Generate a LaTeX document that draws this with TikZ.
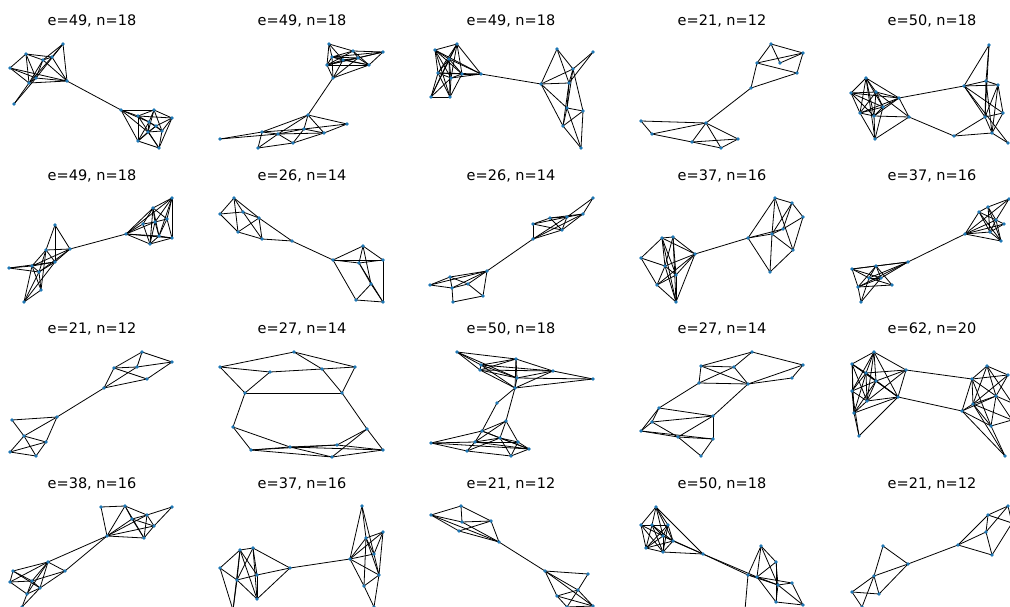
\documentclass[tikz,border=0pt]{standalone}
\usepackage{fontspec}
\setmainfont{DejaVu Sans}
\usetikzlibrary{backgrounds}
\definecolor{vtxblue}{HTML}{1F77B4}
% one graph: prefix, vertex positions (pixels), edges (index pairs)
\newcommand{\graphpanel}[3]{%
  \foreach \px/\py [count=\k] in {#2} {\node[vtx] (#1-\k) at (\px,\py) {};}
  \begin{pgfonlayer}{background}
    \foreach \a/\b in {#3} {\draw[edge] (#1-\a.center) -- (#1-\b.center);}
  \end{pgfonlayer}
}

\begin{document}
\begin{tikzpicture}[x=1pt, y=-1pt,
  vtx/.style={circle, fill=vtxblue, inner sep=0pt, minimum size=3.6pt},
  edge/.style={black, line width=0.8pt},
  ttl/.style={font=\fontsize{14.5}{17}\selectfont, inner sep=0pt}]
	\clip (0,0) rectangle (1010,607);
	\foreach \tx/\ty/\ecount/\ncount [count=\k] in {92/21/49/18, 302/21/49/18, 511/21/49/18, 722/21/21/12, 932/21/50/18,
	  92/176/49/18, 302/176/26/14, 511/176/26/14, 722/176/37/16, 932/176/37/16,
	  92/329/21/12, 302/329/27/14, 511/329/50/18, 722/329/27/14, 932/329/62/20,
	  92/484/38/16, 302/484/37/16, 511/484/21/12, 722/484/50/18, 932/484/21/12}
	  {\node[ttl] (title-\k) at (\tx,\ty) {e=\ecount, n=\ncount};}
	% row 1
	\graphpanel{ga}{63/44,26/54,52/57,43/60,10/68,36/78,29/83,67/81,14/104,121/110,154/110,138/116,172/118,149/122,156/126,162/131,148/132,138/141,159/148}
	  {1/3,1/4,1/8,1/6,2/5,2/3,2/4,2/7,2/6,5/7,5/6,5/8,3/7,3/8,3/4,4/8,4/6,6/8,7/8,9/7,9/6,6/7,4/7,8/10,10/11,10/12,10/17,10/18,10/14,11/12,11/13,11/14,11/16,11/17,12/13,12/14,12/18,12/19,13/16,13/19,13/15,14/15,14/16,14/17,14/18,15/16,15/17,15/18,16/17,16/19,17/18,17/19,18/19}
	\graphpanel{gb}{329/44,353/51,383/52,332/57,343/60,358/58,369/65,327/65,333/78,308/115,347/124,304/129,262/132,278/134,324/133,220/139,293/143,258/148}
	  {1/2,1/4,1/5,2/3,2/4,2/6,2/7,3/6,3/7,3/4,3/8,4/5,4/6,4/7,4/8,5/6,5/8,5/7,6/7,6/8,7/8,8/9,4/9,7/9,5/9,6/9,1/8,2/8,9/10,10/11,10/12,10/13,10/14,10/15,11/15,11/12,12/13,12/14,12/15,12/17,13/14,13/16,13/18,14/15,14/17,14/18,15/17,17/18,16/14}
	\graphpanel{gc}{457/44,435/50,449/59,438/73,451/78,462/74,481/74,431/97,450/97,557/49,593/52,573/69,541/84,569/83,567/108,583/111,563/126,581/148}
	  {1/2,1/3,1/4,1/5,1/6,1/7,1/8,2/3,2/4,2/5,2/6,2/7,2/9,3/4,3/5,3/6,3/7,3/8,3/9,4/5,4/6,4/7,4/8,4/9,5/6,5/7,5/8,5/9,6/7,6/9,8/9,7/13,10/12,10/13,10/14,11/12,11/14,12/13,12/14,12/16,13/14,13/15,13/17,14/15,14/17,15/16,15/17,15/18,16/17,16/18,17/18,12/15}
	\graphpanel{gd}{771/44,803/53,757/63,780/63,797/73,751/88,706/123,641/121,652/134,738/139,692/142,721/148}
	  {1/2,1/3,1/4,2/3,2/5,3/5,3/6,5/6,4/2,6/7,8/7,8/9,9/7,9/11,7/11,7/12,7/10,11/10,11/12,12/10}
	\graphpanel{ge}{866/78,851/93,876/92,899/98,883/107,860/113,874/116,909/117,875/139,989/45,964/86,986/81,998/85,1003/113,985/117,992/133,954/136,1008/143}
	  {1/2,1/3,1/4,1/5,1/6,1/7,1/9,2/3,2/4,2/5,2/6,2/7,3/4,3/5,3/6,3/7,3/8,4/5,4/6,4/7,4/8,5/6,5/7,5/9,6/7,6/9,7/8,7/9,8/9,4/11,8/17,10/11,10/12,10/15,11/12,11/13,11/14,11/15,11/18,12/13,12/15,12/16,13/14,13/15,13/16,14/15,14/16,15/16,15/17,16/17,16/18}
	% row 2
	\graphpanel{gf}{55/225,46/250,70/249,32/266,55/262,39/272,9/268,41/290,24/302,126/234,153/208,172/198,143/224,155/222,167/219,159/236,150/244,172/238}
	  {1/2,1/3,1/5,2/3,2/4,2/5,2/6,2/8,3/4,3/5,3/6,4/5,4/6,4/7,4/8,4/9,5/6,5/9,6/7,6/8,6/9,7/5,8/9,3/10,10/11,10/12,10/13,10/14,10/16,10/17,10/18,11/12,11/13,11/14,11/15,11/16,11/17,12/14,12/15,12/18,12/16,13/14,13/17,14/15,14/16,14/17,15/16,15/18,16/17,16/18,17/18}
	\graphpanel{gg}{234/198,220/214,243/212,259/218,238/232,262/239,292/241,333/260,363/246,383/260,359/263,371/284,356/300,383/302}
	  {1/2,1/3,1/5,1/4,2/3,2/5,3/4,3/6,4/5,4/6,5/6,6/7,4/7,7/8,8/9,8/11,8/10,8/13,9/10,9/11,9/12,10/11,10/14,11/12,11/14,12/13,12/14,13/14}
	\graphpanel{gh}{593/198,583/214,567/217,550/218,533/224,562/230,533/239,487/271,450/277,430/285,468/284,452/288,483/296,453/302}
	  {1/2,1/3,2/3,2/4,2/6,3/4,3/5,3/6,3/7,4/5,4/6,5/6,5/7,6/7,2/7,7/8,8/9,8/10,8/11,8/12,8/13,9/10,9/12,10/12,11/12,11/13,12/14,13/14,9/11}
	\graphpanel{gi}{662/238,673/237,641/258,695/254,665/266,676/275,657/285,676/302,748/238,775/198,792/203,803/217,783/229,772/234,793/250,770/272}
	  {1/2,1/3,1/4,1/5,1/6,1/8,2/4,2/5,2/6,2/8,3/5,3/7,4/5,4/6,4/7,4/8,5/6,5/7,5/8,6/7,6/8,7/8,4/9,9/10,9/13,9/14,9/16,10/11,10/14,10/15,11/12,11/13,11/14,12/13,12/15,13/14,14/15,14/16,15/16}
	\graphpanel{gj}{1009/199,988/207,979/212,996/220,1004/224,965/234,990/232,1001/241,908/262,852/269,876/266,869/278,881/278,858/287,892/285,861/302}
	  {1/2,1/6,1/4,2/3,2/4,2/7,2/8,3/4,3/6,3/7,3/8,4/5,4/6,4/7,4/8,5/6,5/7,6/7,6/8,7/8,6/9,9/10,9/11,9/12,9/13,9/14,10/11,10/12,10/13,10/14,11/12,11/13,11/14,11/15,12/13,12/15,12/16,13/14,14/15,14/16,13/16}
	% row 3
	\graphpanel{gk}{142/352,172/362,114/368,137/367,147/379,104/388,57/417,12/420,24/436,46/442,10/452,36/456}
	  {1/2,1/3,1/4,2/4,2/5,3/4,3/5,3/6,5/6,4/6,6/7,7/8,7/9,7/10,8/9,9/10,9/11,9/12,10/11,10/12,11/12}
	\graphpanel{gl}{294/352,220/367,270/372,322/369,355/367,245/393,342/393,233/427,367/429,251/450,290/447,337/445,332/457,383/450}
	  {1/2,1/4,1/5,2/3,3/4,4/5,2/6,3/6,4/7,5/7,6/7,6/8,7/9,8/10,8/11,9/12,9/14,9/13,10/11,10/12,10/13,11/12,11/14,12/14,13/14,11/13}
	\graphpanel{gm}{457/352,516/359,481/365,480/370,553/371,593/379,517/378,515/388,497/403,506/421,482/431,431/443,500/438,475/442,518/442,529/449,467/451,511/456}
	  {1/2,1/3,1/4,1/7,2/3,2/4,2/5,2/7,2/8,3/4,3/5,3/7,4/5,4/7,4/8,5/6,5/7,5/8,7/6,8/6,7/8,3/8,8/9,8/10,9/11,10/11,10/13,10/14,10/15,11/12,11/13,11/14,11/16,12/14,12/16,12/17,13/14,13/15,13/16,13/17,14/15,14/16,14/17,15/16,15/18,17/18,13/18,16/18}
	\graphpanel{gn}{752/352,701/366,734/367,803/365,792/378,699/383,748/384,659/408,713/416,652/422,641/431,678/437,713/439,701/456}
	  {1/2,1/3,1/4,2/3,2/6,2/7,3/6,3/7,4/5,4/7,5/7,6/7,6/8,7/9,8/9,8/10,8/11,9/10,9/12,9/13,10/11,10/12,11/12,11/13,12/13,12/14,13/14}
	\graphpanel{go}{874/352,852/364,866/373,906/370,876/381,852/391,867/401,898/397,854/413,859/436,972/379,987/366,1008/375,996/396,973/404,962/411,991/426,1005/456,1012/420,1012/403}
	  {1/2,1/3,1/4,1/5,1/6,1/7,1/8,2/3,2/5,2/6,2/7,2/8,2/9,3/4,3/5,3/6,3/7,3/8,3/9,4/5,4/7,4/8,5/6,5/7,5/8,5/9,6/7,6/9,6/10,7/8,7/9,8/9,8/10,9/10,4/11,8/16,11/12,11/13,11/14,11/15,11/16,11/17,12/13,12/14,12/15,12/20,13/14,13/15,14/15,14/16,14/17,14/19,15/16,15/17,15/18,16/17,16/18,17/18,17/19,20/14,15/19}
	% row 4
	\graphpanel{gp}{101/507,125/506,172/507,132/519,147/515,154/526,107/536,144/538,48/562,65/571,13/571,10/582,32/581,40/588,27/594,22/607}
	  {1/2,1/7,2/4,2/5,2/7,3/5,3/6,4/5,4/6,4/7,4/8,5/6,5/7,5/8,6/7,6/8,7/8,2/8,7/9,7/10,9/10,9/11,9/12,9/13,9/14,9/15,10/13,10/14,11/12,11/13,11/14,12/13,12/15,13/14,13/15,14/15,15/16,14/16}
	\graphpanel{gq}{240/550,253/548,220/568,257/575,237/580,290/568,257/599,233/610,350/559,362/506,383/532,366/538,374/554,379/575,364/586,374/607}
	  {1/2,1/3,1/4,1/5,1/7,1/8,2/4,2/5,2/6,2/7,3/5,3/8,4/5,4/6,4/7,5/7,5/8,6/7,6/9,9/10,9/11,9/12,9/13,9/14,9/15,10/12,10/13,11/12,11/13,11/14,12/13,12/14,13/14,14/15,14/16,15/16,12/15}
	\graphpanel{gr}{461/506,431/515,462/522,491/521,459/531,499/542,545/571,588/574,578/590,557/596,593/606,567/607}
	  {1/2,1/3,1/4,2/3,2/5,2/6,3/4,4/5,4/6,5/6,3/6,6/7,7/8,7/9,7/10,7/11,8/9,9/10,9/11,9/12,10/11,10/12,11/12}
	\graphpanel{gs}{656/507,641/525,652/525,668/525,663/536,673/541,646/548,663/552,703/554,748/575,757/577,761/546,776/562,778/585,792/583,776/602,803/605,745/610}
	  {1/2,1/3,1/4,1/5,1/6,1/9,2/3,2/4,2/5,2/7,2/8,3/4,3/5,3/6,3/7,3/8,4/5,4/6,4/7,4/8,5/6,5/7,5/8,5/9,6/7,6/8,6/9,7/8,8/9,9/10,9/11,10/11,10/12,10/14,10/18,11/12,11/13,11/14,11/15,12/13,12/14,13/14,13/16,14/15,14/16,14/17,15/17,16/17,11/16}
	\graphpanel{gt}{883/546,908/564,874/576,852/592,879/594,862/607,958/545,988/515,1008/506,986/532,992/555,1012/523}
	  {1/2,1/3,2/3,2/5,3/4,3/5,3/6,4/5,4/6,2/7,7/8,7/10,7/11,8/9,8/10,8/12,9/10,10/11,11/12,9/12}
\end{tikzpicture}
\end{document}
